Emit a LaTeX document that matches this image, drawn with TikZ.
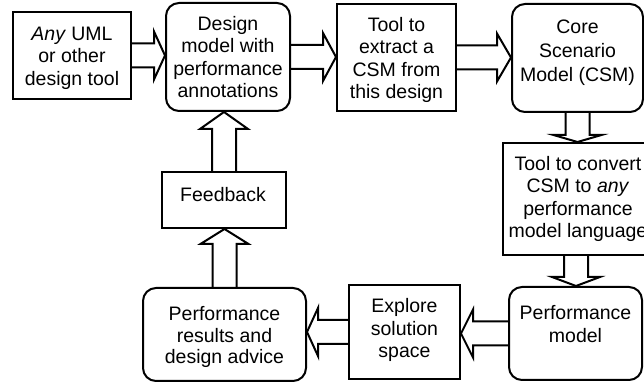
\documentclass[tikz,border=0pt]{standalone}
\usepackage{fontspec}
\setmainfont{Liberation Sans}
\usetikzlibrary{calc}
\tikzset{
  base/.style={draw=black, line width=1pt, inner sep=0pt, fill=white},
  sqbox/.style={base},
  rbox/.style={base, rounded corners=6.5pt},
  txt/.style={align=center, inner sep=0pt, font=\fontsize{9.75pt}{11.25pt}\selectfont},
  blk/.style={draw=black, line width=1pt, line join=miter},
}
\newcommand{\blockarr}[3]{%
  \coordinate (ba-h) at ($(#2)!#3!(#1)$);
  \draw[blk] ($(#1)!6pt!90:(#2)$) -- ($(ba-h)!6pt!90:(#2)$) -- ($(ba-h)!12pt!90:(#2)$) -- (#2)
    -- ($(ba-h)!12pt!-90:(#2)$) -- ($(ba-h)!6pt!-90:(#2)$) -- ($(#1)!6pt!-90:(#2)$);}
\begin{document}
\begin{tikzpicture}[x=0.5pt, y=-0.5pt]
\useasboundingbox (0,0) rectangle (644,383);
% boxes
\node[sqbox, minimum width=59pt,   minimum height=43.5pt] (b1) at (72,55.5) {};
\node[rbox,  minimum width=62pt,   minimum height=54pt]   (b2) at (228,57) {};
\node[sqbox, minimum width=59.5pt, minimum height=53.5pt] (b3) at (396.5,57.5) {};
\node[rbox,  minimum width=65.5pt, minimum height=54pt]   (b4) at (577.5,58) {};
\node[sqbox, minimum width=73pt,   minimum height=56pt]   (b5) at (576,199) {};
\node[rbox,  minimum width=66.5pt, minimum height=46.5pt] (b6) at (575.5,333.5) {};
\node[sqbox, minimum width=55.5pt, minimum height=47pt]   (b7) at (404.5,332) {};
\node[rbox,  minimum width=81.5pt, minimum height=46.5pt] (b8) at (224.5,334.5) {};
\node[sqbox, minimum width=62pt,   minimum height=28pt]   (fb) at (224,200) {};
% texts
\node[txt] (t1) at (72,58) {\textit{Any} UML\\or other\\design tool};
\node[txt] (t2) at (228,57) {Design\\model with\\performance\\annotations};
\node[txt] (t3) at (396.5,60) {Tool to\\extract a\\CSM from\\this design};
\node[txt, font=\fontsize{9.75pt}{12pt}\selectfont] (t4) at (577.5,53) {Core\\Scenario\\Model (CSM)};
\node[txt] (t5) at (578,199) {Tool to convert\\CSM to \textit{any}\\performance\\model language};
\node[txt] (t6) at (575.5,324) {Performance\\model};
\node[txt] (t7) at (404.5,330) {Explore\\solution\\space};
\node[txt, font=\fontsize{9.75pt}{10.75pt}\selectfont] (t8) at (224.5,337) {Performance\\results and\\design advice};
\node[txt] (tf) at (223,195) {Feedback};
% arrow end points
\coordinate (e1) at (b1.east -| b2.west);
\coordinate (e2) at (b2.east -| b3.west);
\coordinate (e3) at (b3.east -| b4.west);
\coordinate (e4) at (b4.south |- b5.north);
\coordinate (e5) at (b5.south |- b6.north);
\coordinate (e6) at (b6.west -| b7.east);
\coordinate (e7) at (b7.west -| b8.east);
\coordinate (e8) at (b8.north |- fb.south);
\coordinate (e9) at (fb.north |- b2.south);
\blockarr{b1.east}{e1}{5.5pt}
\blockarr{b2.east}{e2}{6.5pt}
\blockarr{b3.east}{e3}{7pt}
\blockarr{b4.south}{e4}{3.5pt}
\blockarr{b5.south}{e5}{4.5pt}
\blockarr{b6.west}{e6}{6pt}
\blockarr{b7.west}{e7}{5.5pt}
\blockarr{b8.north}{e8}{7.5pt}
\blockarr{fb.north}{e9}{8.5pt}
\end{tikzpicture}
\end{document}
